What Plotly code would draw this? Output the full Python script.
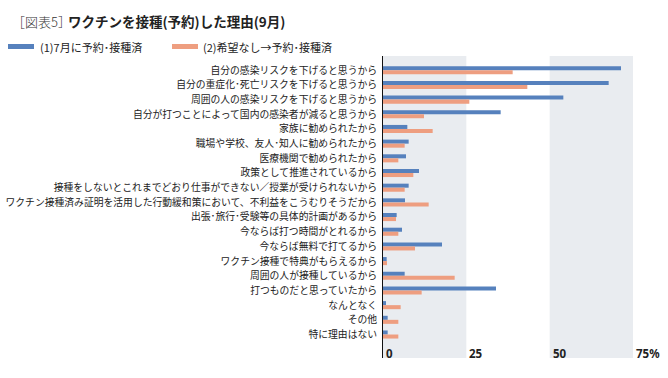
import plotly.graph_objects as go

categories = [
    "自分の感染リスクを下げると思うから",
    "自分の重症化･死亡リスクを下げると思うから",
    "周囲の人の感染リスクを下げると思うから",
    "自分が打つことによって国内の感染者が減ると思うから",
    "家族に勧められたから",
    "職場や学校、友人･知人に勧められたから",
    "医療機関で勧められたから",
    "政策として推進されているから",
    "接種をしないとこれまでどおり仕事ができない／授業が受けられないから",
    "ワクチン接種済み証明を活用した行動緩和策において、不利益をこうむりそうだから",
    "出張･旅行･受験等の具体的計画があるから",
    "今ならば打つ時間がとれるから",
    "今ならば無料で打てるから",
    "ワクチン接種で特典がもらえるから",
    "周囲の人が接種しているから",
    "打つものだと思っていたから",
    "なんとなく",
    "その他",
    "特に理由はない",
]
series1_name = "(1)7月に予約･接種済"
series2_name = "(2)希望なし→予約･接種済"
series1 = [71.4, 67.7, 54.1, 35.3, 7.3, 7.7, 6.9, 10.8, 7.7, 6.6, 4.1, 5.7, 17.7, 1.1, 6.5, 33.9, 0.9, 1.4, 1.4]
series2 = [38.9, 43.3, 25.9, 12.3, 14.9, 6.5, 4.6, 9.1, 6.5, 13.7, 3.9, 4.6, 9.6, 1.2, 21.5, 11.6, 5.3, 4.6, 4.6]
tick_vals = [0, 25, 50, 75]
tick_text = ["0", "25", "50", "75%"]

BLUE = "#5681BD"
ORANGE = "#EE9E80"
BAND = "#E9ECF0"
FONT = "Noto Sans CJK JP"

W, H = 668, 378
L, R, T, B = 383, 35, 56, 20
PW, PH = W - L - R, H - T - B


def px(x):
    return (x - L) / PW


def py(y):
    return (H - B - y) / PH


fig = go.Figure()
fig.add_trace(go.Bar(y=categories, x=series1, orientation="h", name=series1_name,
                     marker=dict(color=BLUE, line=dict(width=0))))
fig.add_trace(go.Bar(y=categories, x=series2, orientation="h", name=series2_name,
                     marker=dict(color=ORANGE, line=dict(width=0))))

shapes = []
for a, b in [(0, 25), (50, 75)]:
    shapes.append(dict(type="rect", xref="x", yref="paper", x0=a, x1=b, y0=0, y1=1,
                       fillcolor=BAND, line=dict(width=0), layer="below"))
# legend swatches
shapes.append(dict(type="line", xref="paper", yref="paper", x0=px(8), x1=px(34),
                   y0=py(46.5), y1=py(46.5), line=dict(color=BLUE, width=5)))
shapes.append(dict(type="line", xref="paper", yref="paper", x0=px(172), x1=px(198),
                   y0=py(46.5), y1=py(46.5), line=dict(color=ORANGE, width=5)))

annotations = [
    dict(xref="paper", yref="paper", x=px(10), y=py(21.5), xanchor="left", yanchor="middle",
         text="［図表5］", showarrow=False,
         font=dict(family=FONT, size=13, color="#333333", weight=300)),
    dict(xref="paper", yref="paper", x=px(66), y=py(21.5), xanchor="left", yanchor="middle",
         text="<b>ワクチンを接種(予約)した理由(9月)</b>", showarrow=False,
         font=dict(family=FONT, size=13.5, color="#222222")),
    dict(xref="paper", yref="paper", x=px(38), y=py(47), xanchor="left", yanchor="middle",
         text=series1_name, showarrow=False, font=dict(family=FONT, size=11, color="#222222")),
    dict(xref="paper", yref="paper", x=px(201), y=py(47), xanchor="left", yanchor="middle",
         text=series2_name, showarrow=False, font=dict(family=FONT, size=11, color="#222222")),
]
for v, t in zip(tick_vals, tick_text):
    annotations.append(dict(xref="x", yref="paper", x=v, y=py(353), xanchor="left",
                            yanchor="middle", xshift=1, text="<b>" + t + "</b>", showarrow=False,
                            font=dict(family="Noto Sans", size=11.5, color="#222222")))

fig.update_layout(
    width=W, height=H,
    margin=dict(l=L, r=R, t=T, b=B, autoexpand=False),
    paper_bgcolor="white", plot_bgcolor="white",
    barmode="group", bargap=0.45, bargroupgap=0,
    showlegend=False,
    shapes=shapes, annotations=annotations,
    font=dict(family=FONT, size=10, color="#222222"),
    xaxis=dict(range=[0, 75], showticklabels=False, showgrid=False, zeroline=False,
               showline=False, fixedrange=True, automargin=False),
    yaxis=dict(type="category", range=[19.6, -0.97], showgrid=False, zeroline=False,
               showline=True, linecolor="#111111", linewidth=1, ticks="",
               tickfont=dict(family=FONT, size=9.8, color="#222222"),
               ticklabelstandoff=3, fixedrange=True, automargin=False),
)

fig.write_html("out.html", config={"displayModeBar": False},
               post_script="document.body.style.margin='0';")
